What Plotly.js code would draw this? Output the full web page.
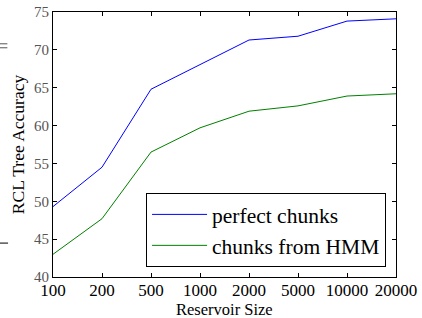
<!DOCTYPE html>
<html>
<head>
<meta charset="utf-8">
<script src="https://cdn.plot.ly/plotly-3.0.1.min.js"></script>
<style>html,body{margin:0;padding:0;background:#fff;}#chart{width:422px;height:318px;}</style>
</head>
<body>
<div id="chart"></div>
<script>
const reservoirSizes = ["100", "200", "500", "1000", "2000", "5000", "10000", "20000"];
const perfectChunks = [49.3, 54.5, 64.8, 68.0, 71.3, 71.8, 73.8, 74.1];
const chunksFromHMM = [43.0, 47.7, 56.5, 59.7, 61.9, 62.6, 63.9, 64.2];
const seriesNames = ["perfect chunks", "chunks from HMM"];
const yTicks = [40, 45, 50, 55, 60, 65, 70, 75];
const xTitle = "Reservoir Size";
const yTitle = "RCL Tree Accuracy";

const serif = "Liberation Serif, Times New Roman, serif";

const traces = [
  {x: reservoirSizes, y: perfectChunks, name: seriesNames[0], type: "scatter", mode: "lines",
   line: {color: "#0000ff", width: 1}},
  {x: reservoirSizes, y: chunksFromHMM, name: seriesNames[1], type: "scatter", mode: "lines",
   line: {color: "#008000", width: 1}}
];

const layout = {
  width: 422, height: 318,
  margin: {l: 53, r: 26, t: 12, b: 41, pad: 0},
  paper_bgcolor: "#fff", plot_bgcolor: "#fff",
  font: {family: serif, color: "#000"},
  showlegend: true,
  legend: {
    x: 0.971, y: 0.038, xanchor: "right", yanchor: "bottom",
    bgcolor: "#fff", bordercolor: "#000", borderwidth: 1,
    font: {family: serif, size: 21.5, color: "#000"},
    tracegroupgap: 0,
    itemwidth: 55,
    entrywidth: 258, entrywidthmode: "pixels"
  },
  xaxis: {
    type: "category", range: [0, 7],
    tickvals: reservoirSizes, ticktext: reservoirSizes,
    showgrid: false, zeroline: false,
    showline: true, linecolor: "#000", linewidth: 1, mirror: "allticks",
    ticks: "inside", ticklen: 4, tickcolor: "#000", tickwidth: 1,
    ticklabelstandoff: -2,
    tickfont: {family: serif, size: 17, color: "#000"}
  },
  yaxis: {
    range: [40, 75], tickvals: yTicks,
    showgrid: false, zeroline: false,
    showline: true, linecolor: "#000", linewidth: 1, mirror: "allticks",
    ticks: "inside", ticklen: 4, tickcolor: "#000", tickwidth: 1,
    tickfont: {family: serif, size: 15, color: "#555"},
    title: {text: yTitle, font: {family: serif, size: 17.5, color: "#000"}, standoff: 4}
  },
  annotations: [
    {text: xTitle, xref: "paper", yref: "paper", x: 0.5, y: 0, xanchor: "center", yanchor: "middle",
     yshift: -32, showarrow: false, font: {family: serif, size: 16.5, color: "#000"}}
  ],
  shapes: [
    {type: "line", xref: "paper", yref: "paper", x0: -0.155, x1: -0.131, y0: 0.128, y1: 0.128,
     line: {color: "#000", width: 1}},
    {type: "line", xref: "paper", yref: "paper", x0: -0.155, x1: -0.133, y0: 0.88, y1: 0.88,
     line: {color: "#555", width: 1}},
    {type: "line", xref: "paper", yref: "paper", x0: -0.155, x1: -0.133, y0: 0.865, y1: 0.865,
     line: {color: "#555", width: 1}}
  ]
};

Plotly.newPlot("chart", traces, layout, {displayModeBar: false, staticPlot: true});
</script>
</body>
</html>
